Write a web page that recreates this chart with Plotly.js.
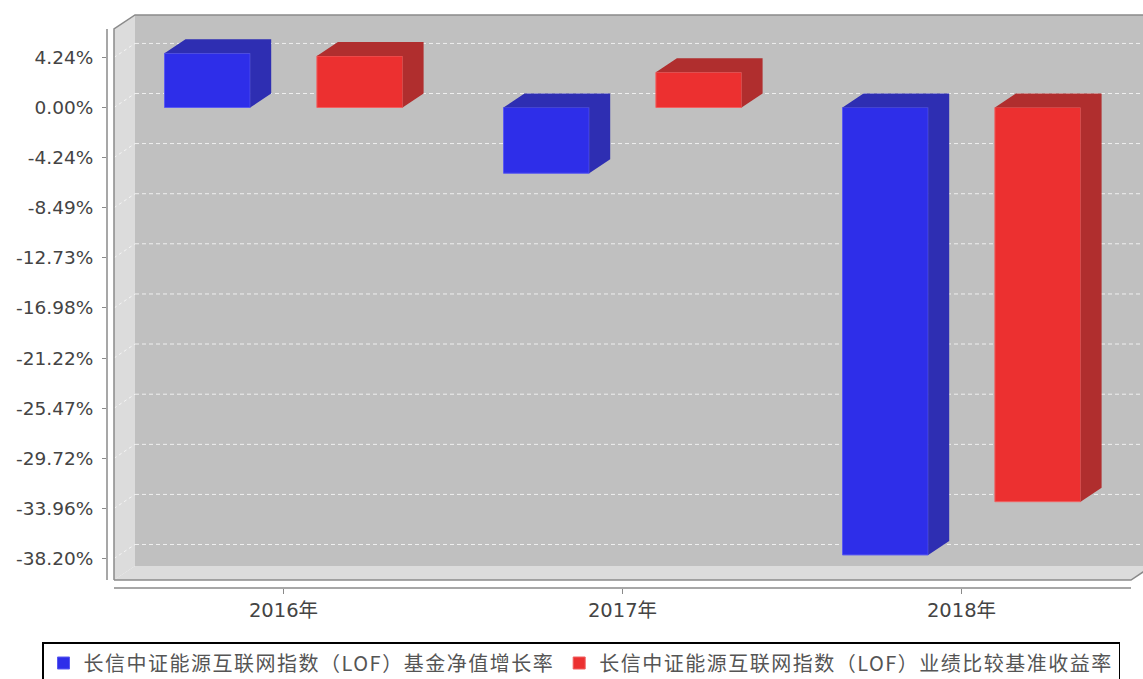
<!DOCTYPE html>
<html>
<head>
<meta charset="utf-8">
<script src="https://cdn.plot.ly/plotly-3.0.1.min.js"></script>
<style>
  html, body { margin: 0; padding: 0; background: #ffffff; }
  #chart { width: 1143px; height: 679px; }
  .legendtext { letter-spacing: 1.5px; }
</style>
</head>
<body>
<div id="chart"></div>
<script>
// ---------------- data ----------------
const categories = ['2016年', '2017年', '2018年'];
const fundGrowth = [4.59, -5.57, -37.90];      // 基金净值增长率 (%)
const benchmarkReturn = [4.36, 2.98, -33.39];  // 业绩比较基准收益率 (%)
const seriesNames = [
  '长信中证能源互联网指数（LOF）基金净值增长率',
  '长信中证能源互联网指数（LOF）业绩比较基准收益率'
];
const yTickLabels = ['4.24%', '0.00%', '-4.24%', '-8.49%', '-12.73%', '-16.98%',
                     '-21.22%', '-25.47%', '-29.72%', '-33.96%', '-38.20%'];

// ---------------- geometry (pixels) ----------------
const W = 1143, H = 679;
const PL = 107, PR = 1143, PT = 10, PB = 588;   // plot area
const FRONT_LEFT = 114;       // front-left edge of the 3D box
const PX_PER_CAT = 339;       // pixels per category
const ZERO_PY = 107.5;        // pixel row of 0 %
const PX_PER_PCT = 11.806;    // pixels per 1 %
const DEPTH_X = 21, DEPTH_Y = 14;   // 3D offset in pixels

const X = px => -0.5 + (px - FRONT_LEFT) / PX_PER_CAT;
const Y = py => (ZERO_PY - py) / PX_PER_PCT;
const DX = DEPTH_X / PX_PER_CAT;
const DY = DEPTH_Y / PX_PER_PCT;

const BAR_W = 85.7 / PX_PER_CAT;
const OFFSETS = [-119 / PX_PER_CAT, -119 / PX_PER_CAT + BAR_W + 66.7 / PX_PER_CAT];

const FRONT_COLORS = ['#2e2ee9', '#ec3030'];
const SIDE_COLORS = ['#2e2eb2', '#b02e2e'];
const EDGE_COLORS = ['#5a5af0', '#f06060'];

const catIdx = categories.map((c, i) => i);
const tickVals = yTickLabels.map(t => parseFloat(t));

// ---------------- traces ----------------
const series = [fundGrowth, benchmarkReturn];
const traces = [];
series.forEach((vals, s) => {
  traces.push({
    type: 'bar', name: seriesNames[s],
    x: catIdx, y: vals, width: BAR_W, offset: OFFSETS[s],
    marker: { color: FRONT_COLORS[s], line: { color: EDGE_COLORS[s], width: 1 } },
    hovertemplate: '%{y:.2f}%<extra>' + seriesNames[s] + '</extra>'
  });
});
series.forEach((vals, s) => {
  const xs = [], ys = [];
  vals.forEach((v, i) => {
    const x0 = catIdx[i] + OFFSETS[s], x1 = x0 + BAR_W;
    const top = Math.max(0, v), bot = Math.min(0, v);
    // top face
    xs.push(x0, x0 + DX, x1 + DX, x1, x0, null);
    ys.push(top, top + DY, top + DY, top, top, null);
    // right face
    xs.push(x1, x1 + DX, x1 + DX, x1, x1, null);
    ys.push(top, top + DY, bot + DY, bot, top, null);
  });
  traces.push({
    type: 'scatter', mode: 'lines', x: xs, y: ys, fill: 'toself',
    fillcolor: SIDE_COLORS[s], line: { width: 0, color: SIDE_COLORS[s] },
    showlegend: false, hoverinfo: 'skip'
  });
});

// ---------------- decorations ----------------
const P = (pts) => 'M' + pts.map(p => X(p[0]) + ',' + Y(p[1])).join('L');
const shapes = [];
const backRight = 1165;
// back wall
shapes.push({ type: 'rect', xref: 'x', yref: 'y', layer: 'below',
  x0: X(135), x1: X(backRight), y0: Y(566), y1: Y(15),
  fillcolor: '#c0c0c0', line: { width: 0 } });
// left wall
shapes.push({ type: 'path', xref: 'x', yref: 'y', layer: 'below',
  path: P([[114, 29], [135, 15], [135, 566], [114, 580]]) + 'Z',
  fillcolor: '#dcdcdc', line: { width: 0 } });
// floor
shapes.push({ type: 'path', xref: 'x', yref: 'y', layer: 'below',
  path: P([[114, 580], [135, 566], [1152, 566], [1131, 580]]) + 'Z',
  fillcolor: '#dcdcdc', line: { width: 0 } });
// grid lines
tickVals.forEach(v => {
  shapes.push({ type: 'line', xref: 'x', yref: 'y', layer: 'below',
    x0: X(135), x1: X(backRight), y0: v + DY, y1: v + DY,
    line: { color: 'rgba(255,255,255,0.75)', width: 1, dash: '4px,3px' } });
  shapes.push({ type: 'line', xref: 'x', yref: 'y', layer: 'below',
    x0: X(114), x1: X(135), y0: v, y1: v + DY,
    line: { color: 'rgba(255,255,255,0.7)', width: 1, dash: '3px,3px' } });
});
// box outline
shapes.push({ type: 'path', xref: 'x', yref: 'y', layer: 'below',
  path: P([[114, 580], [114, 29], [135, 15], [backRight, 15]]),
  line: { color: '#8a8a8a', width: 1.5 } });
shapes.push({ type: 'path', xref: 'x', yref: 'y', layer: 'below',
  path: P([[114, 580], [1131, 580], [1152, 566]]),
  line: { color: '#8a8a8a', width: 1.5 } });
// value axis line
shapes.push({ type: 'line', xref: 'paper', yref: 'y', layer: 'above',
  x0: 0, x1: 0, y0: Y(29), y1: Y(580),
  line: { color: '#8a8a8a', width: 1.5 } });
// category axis line
shapes.push({ type: 'line', xref: 'paper', yref: 'paper', layer: 'above',
  x0: (FRONT_LEFT - PL) / (PR - PL), x1: (1131 - PL) / (PR - PL), y0: 0, y1: 0,
  line: { color: '#8a8a8a', width: 1.5 } });

const layout = {
  width: W, height: H,
  margin: { l: PL, r: W - PR, t: PT, b: H - PB, pad: 0, autoexpand: false },
  paper_bgcolor: '#ffffff', plot_bgcolor: '#ffffff',
  barmode: 'overlay',
  showlegend: true,
  xaxis: {
    range: [X(PL), X(PR)], tickvals: catIdx, ticktext: categories,
    showgrid: false, zeroline: false, showline: false, automargin: false,
    ticks: 'outside', ticklen: 5, tickcolor: '#8a8a8a', tickwidth: 1,
    tickfont: { family: 'DejaVu Sans, Noto Sans CJK SC, sans-serif', size: 19.5, color: '#444444' },
    fixedrange: true
  },
  yaxis: {
    range: [Y(PB), Y(PT)], tickvals: tickVals, ticktext: yTickLabels,
    showgrid: false, zeroline: false, showline: false, automargin: false,
    ticks: 'outside', ticklen: 4, tickcolor: '#8a8a8a', tickwidth: 1,
    ticklabelstandoff: 5,
    tickfont: { family: 'DejaVu Sans, sans-serif', size: 18.5, color: '#444444' },
    fixedrange: true
  },
  legend: {
    orientation: 'h', xref: 'paper', yref: 'paper',
    x: (42 - PL) / (PR - PL), xanchor: 'left',
    y: (PB - 642) / (PB - PT), yanchor: 'top',
    bgcolor: '#ffffff', bordercolor: '#000000', borderwidth: 1.5,
    font: { family: 'Noto Sans CJK SC, sans-serif', size: 20, color: '#555555' },
    traceorder: 'normal'
  },
  shapes: shapes
};

Plotly.newPlot('chart', traces, layout, { displayModeBar: false, staticPlot: true });
</script>
</body>
</html>
